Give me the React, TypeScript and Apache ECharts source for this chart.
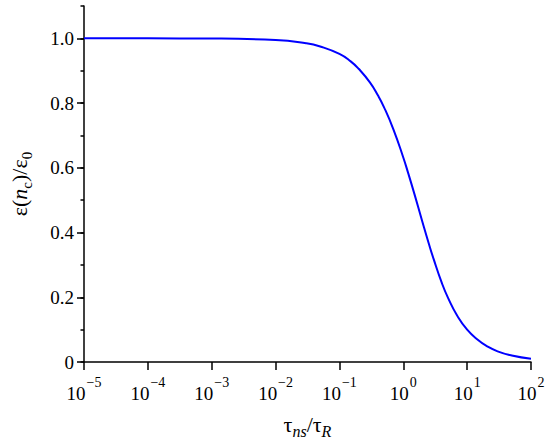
import React, { useEffect, useRef } from "react";
import * as echarts from "echarts";

// ratio tau_ns / tau_R (log scale)
const ratioX: number[] = [
  1e-5, 1e-4, 1e-3, 1e-2, 0.03, 0.05, 0.1, 0.15, 0.2, 0.3, 0.4, 0.5, 0.7, 1,
  1.2, 1.5, 2, 2.5, 3, 4, 5, 7, 10, 15, 20, 30, 50, 100,
];
// epsilon(n_c)/epsilon_0
const epsRatio: number[] = [
  1.0, 1.0, 0.9995, 0.995, 0.985, 0.975, 0.952, 0.929, 0.906, 0.864, 0.824,
  0.787, 0.719, 0.632, 0.582, 0.518, 0.432, 0.367, 0.317, 0.245, 0.199, 0.143,
  0.1, 0.067, 0.05, 0.033, 0.02, 0.01,
];
const yMajorTicks: number[] = [0, 0.2, 0.4, 0.6, 0.8, 1.0];

const FONT = "Liberation Serif";

export default function App() {
  const ref = useRef<HTMLDivElement>(null);
  useEffect(() => {
    if (!ref.current) return;
    const chart = echarts.init(ref.current, undefined, { renderer: "svg" });
    const data = ratioX.map((x, i) => [x, epsRatio[i]]);
    chart.setOption({
      animation: false,
      backgroundColor: "#ffffff",
      textStyle: { fontFamily: FONT },
      grid: { left: 84, right: 19, top: 6, bottom: 77 },
      xAxis: {
        type: "log",
        logBase: 10,
        min: 1e-5,
        max: 100,
        splitLine: { show: false },
        axisLine: { lineStyle: { color: "#000", width: 1.5 } },
        axisTick: { show: true, length: 8, lineStyle: { color: "#000", width: 1.5 } },
        minorTick: { show: false },
        axisLabel: {
          margin: 13,
          fontFamily: FONT,
          formatter: (v: number) => {
            const e = Math.round(Math.log10(v));
            return `{b|10}{s|${e < 0 ? "\u2212" + Math.abs(e) : e}}`;
          },
          rich: {
            b: { fontFamily: FONT, fontSize: 19, color: "#000", lineHeight: 28, verticalAlign: "bottom" },
            s: { fontFamily: FONT, fontSize: 14, color: "#000", lineHeight: 14, verticalAlign: "top", padding: [0, 0, 0, 1] },
          },
        },
        name: "{t|τ}{i|ns}{t|/τ}{i|R}",
        nameLocation: "middle",
        nameGap: 51,
        nameTextStyle: {
          fontFamily: FONT,
          rich: {
            t: { fontFamily: FONT, fontSize: 22, color: "#000", lineHeight: 26, verticalAlign: "top" },
            i: { fontFamily: FONT, fontSize: 16, fontStyle: "italic", color: "#000", lineHeight: 15, verticalAlign: "bottom" },
          },
        },
      },
      yAxis: [
        {
          type: "value",
          min: 0,
          max: 1.1,
          interval: 0.1,
          splitLine: { show: false },
          axisLine: { lineStyle: { color: "#000", width: 1.5 } },
          axisTick: { show: true, length: 3.5, lineStyle: { color: "#000", width: 1.5 } },
          axisLabel: {
            margin: 10,
            fontFamily: FONT,
            fontSize: 19,
            color: "#000",
            formatter: (v: number) => {
              const r = Math.round(v * 10);
              if (r % 2 !== 0 || r > 10) return "";
              return r === 0 ? "0" : (r / 10).toFixed(1);
            },
          },
          name: "{t|ε(}{n|n}{s|c}{t|)/ε}{s|0}",
          nameLocation: "middle",
          nameGap: 50,
          nameTextStyle: {
            fontFamily: FONT,
            rich: {
              t: { fontFamily: FONT, fontSize: 22, fontStyle: "normal", color: "#000", lineHeight: 26, verticalAlign: "top" },
              n: { fontFamily: FONT, fontSize: 22, fontStyle: "italic", color: "#000", lineHeight: 26, verticalAlign: "top" },
              s: { fontFamily: FONT, fontSize: 15, fontStyle: "normal", color: "#000", lineHeight: 15, verticalAlign: "bottom" },
            },
          },
        },
        {
          type: "value",
          min: 0,
          max: 1.1,
          position: "left",
          splitLine: { show: false },
          axisLine: { show: false },
          axisTick: {
            show: true,
            length: 7,
            customValues: yMajorTicks,
            lineStyle: { color: "#000", width: 1.5 },
          },
          axisLabel: { show: false },
        },
      ],
      series: [
        {
          type: "line",
          data,
          xAxisIndex: 0,
          yAxisIndex: 0,
          smooth: true,
          showSymbol: false,
          lineStyle: { color: "#0000ff", width: 2 },
        },
      ],
    });
    return () => chart.dispose();
  }, []);
  return <div ref={ref} style={{ width: 550, height: 444, position: "absolute", left: 0, top: 0 }} />;
}
